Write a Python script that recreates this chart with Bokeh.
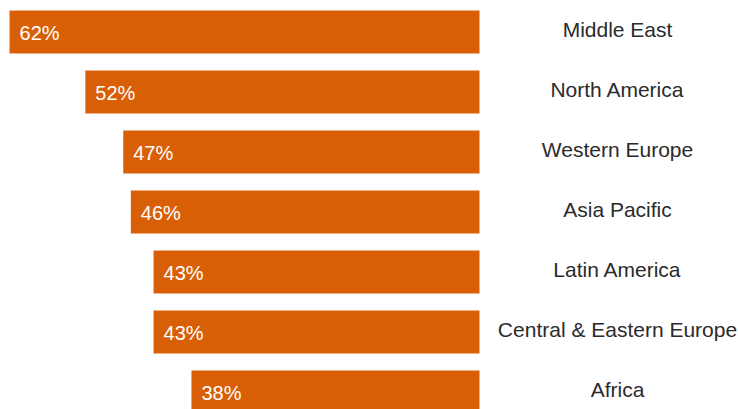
from bokeh.plotting import figure
from bokeh.models import ColumnDataSource, Range1d
from bokeh.core.properties import value
from bokeh.embed import file_html
from bokeh.resources import INLINE

regions = ["Middle East", "North America", "Western Europe", "Asia Pacific",
           "Latin America", "Central & Eastern Europe", "Africa"]
shares = [62, 52, 47, 46, 43, 43, 38]

idx = list(range(len(regions)))
src = ColumnDataSource(dict(
    y=idx,
    left=[-v for v in shares],
    right=[0] * len(shares),
    val=shares,
    lab=[f"{v}%" for v in shares],
    region=regions,
))

px_per = 7.58
W, H = 738, 409
zero_px = 479
x0 = -zero_px / px_per
x1 = (W - zero_px) / px_per
step = 60.0
first_c = 31.5
ytop = -first_c / step
ybot = (H - first_c) / step

p = figure(width=W, height=H, output_backend="svg", toolbar_location=None,
           x_range=Range1d(x0, x1), y_range=Range1d(ybot, ytop),
           min_border=0, min_border_left=0, min_border_right=0,
           min_border_top=0, min_border_bottom=0)
p.axis.visible = False
p.grid.visible = False
p.outline_line_color = None
p.background_fill_color = "white"
p.border_fill_color = "white"

p.hbar(y="y", left="left", right="right", height=43 / step, source=src,
       fill_color="#D95F07", line_color=None)

p.text(x="left", y="y", text="lab", source=src, x_offset=10, y_offset=1,
       text_color="white", text_font=value("Liberation Sans"),
       text_font_size="20px", text_baseline="middle", text_align="left")

label_x = (617 - zero_px) / px_per
p.text(x=label_x, y="y", text="region", source=src, y_offset=-3,
       text_color="#2b2b2b", text_font=value("Liberation Sans"),
       text_font_size="21px", text_baseline="middle", text_align="center")

open("out.html", "w").write(file_html(p, INLINE))
